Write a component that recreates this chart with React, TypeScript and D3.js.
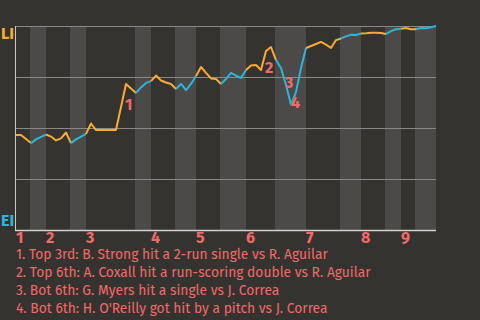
import React from 'react';
import * as d3 from 'd3';

// ---------- data ----------
const teamTop = 'LI';
const teamBottom = 'EI';
const inningLabels = ['1', '2', '3', '4', '5', '6', '7', '8', '9'];
// play index where each half-inning starts (last entry = end of game)
const halfInningStarts = [0, 3, 6, 11, 14, 24, 27, 32, 36, 41, 46, 52, 58, 65, 69, 74, 77, 80, 84];
// win probability of the top team (LI) after each play
const winProb = [
  0.466, 0.466, 0.446, 0.426, 0.444, 0.456, 0.468, 0.458, 0.439, 0.449,
  0.478, 0.426, 0.444, 0.458, 0.471, 0.522, 0.49, 0.49, 0.49, 0.49,
  0.49, 0.603, 0.716, 0.694, 0.672, 0.699, 0.721, 0.73, 0.757, 0.733,
  0.723, 0.716, 0.691, 0.716, 0.686, 0.716, 0.755, 0.799, 0.77, 0.743,
  0.74, 0.716, 0.74, 0.77, 0.757, 0.745, 0.784, 0.806, 0.809, 0.784,
  0.877, 0.897, 0.833, 0.794, 0.711, 0.615, 0.676, 0.794, 0.892, 0.902,
  0.912, 0.922, 0.909, 0.892, 0.931, 0.939, 0.949, 0.957, 0.956, 0.963,
  0.964, 0.967, 0.967, 0.966, 0.961, 0.975, 0.984, 0.987, 0.99, 0.984,
  0.984, 0.99, 0.989, 0.994, 1.0,
];
const gridValues = [0.25, 0.5, 0.75, 1];
const annotationLabels = ['1', '2', '3', '4'];
const annotationPlays = [21.8, 49.8, 53.8, 55];
const annotationValues = [0.588, 0.77, 0.696, 0.598];
const notes = [
  '1. Top 3rd: B. Strong hit a 2-run single vs R. Aguilar',
  '2. Top 6th: A. Coxall hit a run-scoring double vs R. Aguilar',
  '3. Bot 6th: G. Myers hit a single vs J. Correa',
  "4. Bot 6th: H. O'Reilly got hit by a pitch vs J. Correa",
];

// ---------- style ----------
const W = 480;
const H = 320;
const BG = '#353330';
const BAND = '#4c4a48';
const ORANGE = '#fbaa32';
const BLUE = '#2bb5dc';
const RED = '#f26a68';
const FONT = "'Fira Sans', 'Open Sans', sans-serif";

export default function App() {
  const left = 16;
  const right = 436;
  const top = 26;
  const bottom = 230;
  const x = d3.scaleLinear().domain([0, winProb.length - 1]).range([left, right]);
  const y = d3.scaleLinear().domain([0, 1]).range([bottom, top]);
  const line = d3
    .line<number>()
    .x((_, i) => x(i))
    .y((d) => y(d));

  const halves = halfInningStarts.slice(0, -1).map((s, k) => ({
    k,
    start: s,
    end: halfInningStarts[k + 1],
  }));

  return (
    <div style={{ position: 'fixed', left: 0, top: 0, width: W, height: H, background: BG }}>
      <svg width={W} height={H} style={{ display: 'block' }}>
        <rect x={0} y={0} width={W} height={H} fill={BG} />
        {halves
          .filter((h) => h.k % 2 === 1)
          .map((h) => (
            <rect
              key={'b' + h.k}
              x={x(h.start) - 1}
              y={top}
              width={x(h.end) - x(h.start) + 1}
              height={bottom - top}
              fill={BAND}
            />
          ))}
        {gridValues.map((v) => (
          <line
            key={'g' + v}
            x1={left}
            x2={right}
            y1={Math.round(y(v)) + 0.5}
            y2={Math.round(y(v)) + 0.5}
            stroke="#8a8987"
            strokeWidth={1}
          />
        ))}
        <line x1={left - 0.5} x2={left - 0.5} y1={top} y2={bottom + 1} stroke="#c8c8c6" strokeWidth={1} />
        <line x1={left - 1} x2={right} y1={bottom + 0.5} y2={bottom + 0.5} stroke="#d0d0ce" strokeWidth={1.5} />
        {halves.map((h) => (
          <path
            key={'l' + h.k}
            d={line.x((_, i) => x(i + h.start))(winProb.slice(h.start, h.end + 1)) || ''}
            fill="none"
            stroke={h.k % 2 === 0 ? ORANGE : BLUE}
            strokeWidth={2}
            strokeLinejoin="round"
          />
        ))}
        {annotationLabels.map((t, i) => (
          <text
            key={'a' + i}
            x={x(annotationPlays[i])}
            y={y(annotationValues[i])}
            fill={RED}
            fontFamily={FONT}
            fontWeight="bold"
            fontSize={16}
          >
            {t}
          </text>
        ))}
        {halves
          .filter((h) => h.k % 2 === 0)
          .map((h) => (
            <text
              key={'i' + h.k}
              x={x(h.start)}
              y={243}
              fill={RED}
              fontFamily={FONT}
              fontWeight="bold"
              fontSize={16}
            >
              {inningLabels[h.k / 2]}
            </text>
          ))}
        <text x={1} y={top + 13} fill={ORANGE} fontFamily={FONT} fontWeight="bold" fontSize={16}>
          {teamTop}
        </text>
        <text x={1} y={bottom - 4} fill={BLUE} fontFamily={FONT} fontWeight="bold" fontSize={16}>
          {teamBottom}
        </text>
        {notes.map((n, i) => (
          <text key={'n' + i} x={16} y={259 + i * 18} fill={RED} fontFamily={FONT} fontSize={13.8}>
            {n}
          </text>
        ))}
      </svg>
    </div>
  );
}
